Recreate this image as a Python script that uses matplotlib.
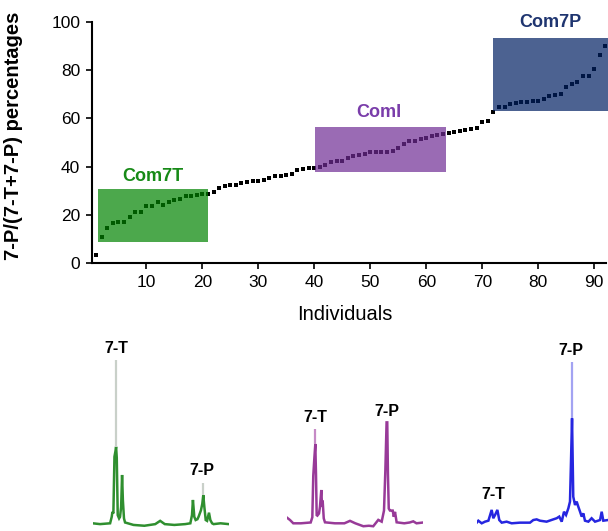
import numpy as np
from matplotlib import pyplot as plt
from matplotlib.patches import Rectangle

plt.rcParams["font.family"] = ["Liberation Sans", "DejaVu Sans"]

# 7-P share for every individual, sorted
individuals = list(range(1, 93))
percentages = [
    3.2, 10.9, 14.7, 16.5, 17.2, 17.2, 19.0, 21.3, 21.3, 23.7,
    23.7, 25.2, 24.2, 25.2, 26.0, 26.6, 27.7, 27.8, 28.1, 28.8,
    28.8, 29.4, 31.3, 31.9, 32.3, 32.4, 33.1, 33.5, 33.9, 34.2,
    34.6, 35.4, 35.9, 36.3, 36.7, 37.1, 38.5, 39.2, 39.5, 39.6,
    39.7, 40.7, 42.1, 42.4, 42.5, 43.7, 44.6, 45.0, 45.3, 46.0,
    46.1, 46.1, 46.1, 46.3, 47.6, 49.3, 50.7, 50.7, 51.4, 51.8,
    52.9, 53.3, 53.4, 54.0, 54.4, 54.7, 55.0, 55.5, 56.1, 58.7,
    58.9, 62.6, 64.7, 64.8, 66.1, 66.5, 66.8, 67.0, 67.3, 67.4,
    68.0, 69.1, 69.9, 70.3, 73.0, 74.4, 74.9, 77.4, 77.7, 80.7,
    86.4, 90.2,
]

# chemotype groups: (name, individuals range, percentage range)
group_names = ["Com7T", "ComI", "Com7P"]
group_x = [(1.4, 21.1), (40.1, 63.6), (71.9, 94.0)]
group_y = [(8.6, 30.6), (37.7, 56.6), (63.2, 93.5)]
group_label_xy = [(11.1, 35.8), (51.6, 62.3), (82.1, 99.7)]
box_colors = ["#008300", "#702c95", "#002062"]
text_colors = ["#178a17", "#7a3daa", "#1f3570"]

# example chromatograms (retention 0-10, relative intensity)
chrom_t = [
    [0, 0.54, 1.28, 1.40, 1.45, 1.52, 1.60, 1.67, 1.72, 1.77, 1.84, 1.94,
     2.01, 2.09, 2.16, 2.22, 2.30, 2.38, 3.0, 3.8, 4.6, 4.96, 5.3, 6.0,
     6.8, 7.18, 7.30, 7.37, 7.47, 7.57, 7.70, 7.79, 7.96, 8.06, 8.13, 8.21,
     8.31, 8.41, 8.55, 8.65, 8.78, 8.89, 9.4, 10],
    [0, 0.2, 0.44, 1.0, 1.72, 1.84, 1.91, 1.99, 2.06, 2.11, 2.16, 2.21,
     2.33, 2.40, 2.50, 2.56, 2.60, 2.68, 2.77, 3.5, 4.2, 4.61, 5.0, 5.59,
     6.0, 6.32, 6.69, 6.94, 7.11, 7.21, 7.30, 7.35, 7.40, 7.46, 7.55, 7.65,
     7.75, 7.83, 7.92, 8.04, 8.6, 9.0, 9.26, 9.5, 10],
    [0, 0.12, 0.37, 0.61, 0.86, 1.10, 1.22, 1.35, 1.52, 1.66, 1.84, 2.20,
     2.57, 3.18, 3.92, 4.16, 4.41, 4.65, 5.14, 5.63, 5.88, 6.07, 6.25, 6.42,
     6.57, 6.74, 6.86, 6.93, 7.01, 7.10, 7.23, 7.35, 7.47, 7.60, 7.72, 7.84,
     7.96, 8.21, 8.45, 8.70, 9.07, 9.19, 9.31, 9.65, 10],
]
chrom_i = [
    [0, -0.5, 0, 4, 7, 6, 40.8, 44, 46.9, 40, 5, 3,
     4, 10, 29.6, 14, 3, 0.5, -1, -1.5, -0.5, 1.5, -0.5, -1,
     -0.5, 0, 5, 14.3, 4, 2, 2.5, 4.1, 8, 12, 17.3, 10,
     2, 1.5, 6.5, 2, 0, -0.5, 0, -0.5],
    [3.3, 2, 0, 0, 0.5, 3.7, 29.2, 40, 48.6, 30, 5, 4.7,
     6, 10, 20.4, 10, 13.9, 3, 0.6, 0, 0, 1.5, 0, -1.8,
     -1.5, -1.8, 2.1, 1, 7.8, 32.3, 61.8, 61.8, 30, 9, 7.8, 7.8,
     7.8, 4, 7, 0.6, 0, 0.5, 1.2, 0, 0.5],
    [0.4, 1.6, 0, 1.0, 1.6, 8.2, 3.1, 5.1, 8.2, 2.0, 0.4, 1.0,
     0, 0.4, 0.4, 2.0, 2.4, 1.6, 1.0, 2.4, 3.1, 4.1, 1.0, 7.1,
     5.1, 9.2, 13.3, 36.7, 64.3, 16.3, 11.2, 13.3, 10.2, 7.1, 4.1, 6.1,
     1.6, 1.0, 3.1, 1.0, 2.0, 7.1, 1.6, 2.0, 1.5],
]
# thin faint apex of the tall spikes: (retention, from, to)
chrom_tips = [
    [(1.72, 46.9, 100), (8.13, 17.3, 24.9)],
    [(2.06, 48.6, 57.8)],
    [(7.01, 64.3, 99)],
]
# peak labels: (text, retention, intensity)
chrom_labels = [
    [("7-T", 1.72, 107), ("7-P", 8.04, 32.6)],
    [("7-T", 2.04, 64.9), ("7-P", 7.35, 68.6)],
    [("7-T", 1.22, 17.9), ("7-P", 6.93, 105.7)],
]
chrom_colors = ["#2f8f2f", "#983a98", "#2626e0"]
tip_colors = ["#c9d0c9", "#c68ac6", "#a3a3f2"]
chrom_left_px = [92.7, 287.3, 476.7]

W, H = 608, 531
fig = plt.figure(figsize=(W / 100, H / 100), dpi=100)

# ---- top panel: sorted percentages ----
ax = fig.add_axes([92 / W, 268 / H, 514 / W, 241 / H])
ax.plot(individuals, percentages, "s", color="black", markersize=2.3,
        markeredgewidth=0, zorder=2)

for k in range(len(group_names)):
    x0, x1 = group_x[k]
    y0, y1 = group_y[k]
    ax.add_patch(Rectangle((x0, y0), x1 - x0, y1 - y0, facecolor=box_colors[k],
                           edgecolor="none", alpha=0.7, zorder=3, clip_on=False))
    ax.text(group_label_xy[k][0], group_label_xy[k][1], group_names[k],
            color=text_colors[k], fontsize=13, fontweight="bold",
            ha="center", va="center")

ax.set_xlim(0.3, 92.1)
ax.set_ylim(0, 100)
ax.set_xticks([10, 20, 30, 40, 50, 60, 70, 80, 90])
ax.set_yticks([0, 20, 40, 60, 80, 100])
ax.tick_params(labelsize=12.5, width=1.2, length=4.5, direction="out", pad=4)
for side in ["top", "right"]:
    ax.spines[side].set_visible(False)
for side in ["left", "bottom"]:
    ax.spines[side].set_linewidth(1.5)

fig.text(345 / W, 1 - 315 / H, "Individuals", fontsize=14.5,
         ha="center", va="center")
fig.text(14 / W, 1 - 136 / H, "7-P/(7-T+7-P) percentages", fontsize=14.5,
         fontweight="bold", rotation=90, ha="center", va="center")

# ---- bottom panel: one chromatogram per chemotype ----
px_per_t = 13.6
px_per_i = 1.633
for k in range(3):
    cax = fig.add_axes([chrom_left_px[k] / W, (H - 523.3 - 6 * px_per_i) / H,
                        10 * px_per_t / W, 116 * px_per_i / H])
    cax.set_xlim(0, 10)
    cax.set_ylim(-6, 110)
    cax.axis("off")
    cax.plot(chrom_t[k], chrom_i[k], color=chrom_colors[k], lw=1.8,
             solid_joinstyle="miter")
    for t, lo, hi in chrom_tips[k]:
        cax.vlines(t, lo, hi, color=tip_colors[k], lw=1.6)
    for txt, t, inten in chrom_labels[k]:
        cax.text(t, inten, txt, fontsize=11.5, fontweight="bold",
                 ha="center", va="center")

fig.savefig("out.png", dpi=100)
